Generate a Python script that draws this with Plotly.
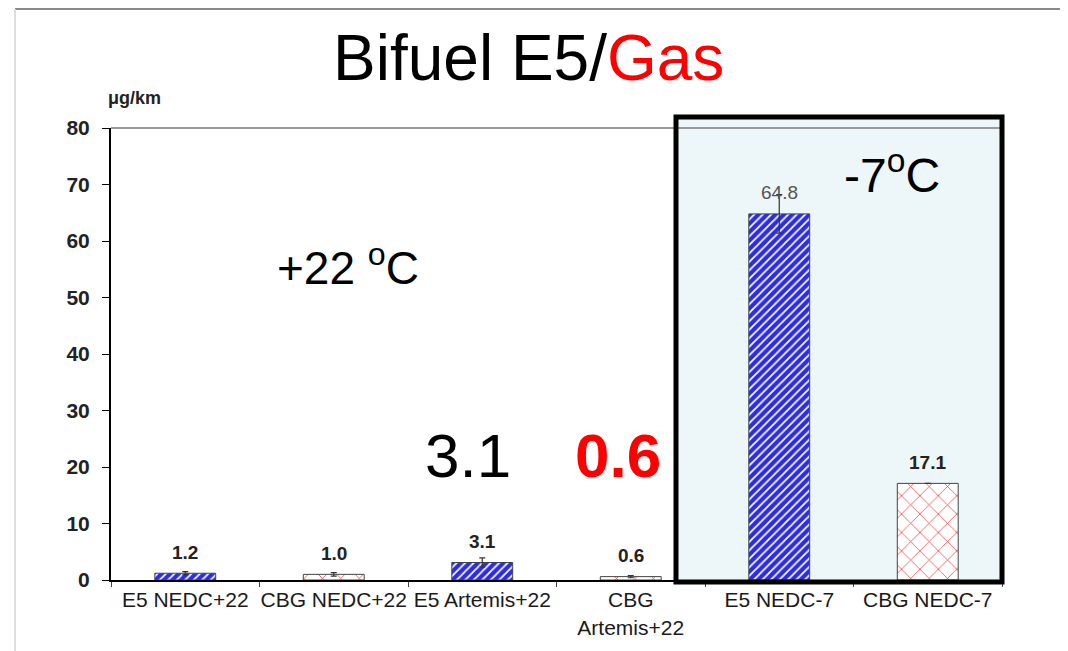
import plotly.graph_objects as go

categories = ["E5 NEDC+22", "CBG NEDC+22", "E5 Artemis+22", "CBG<br>Artemis+22", "E5 NEDC-7", "CBG NEDC-7"]
values = [1.2, 1.0, 3.1, 0.6, 64.8, 17.1]
errors = [0.3, 0.3, 0.8, 0.2, 3.4, 0.0]
fuel = ["E5", "CBG", "E5", "CBG", "E5", "CBG"]
y_ticks = [0, 10, 20, 30, 40, 50, 60, 70, 80]

FONT = "Liberation Sans, Arial, sans-serif"

# page body adds an 8px margin; compensate so plot area lands at x 111..1002, y 128..580
OFF = 8
W, H = 1068 - OFF, 651 - OFF
L, R, T, B = 111 - OFF, 66, 128 - OFF, 71
PW, PH = 891, 452


def px(x):
    return (x - 111) / PW


def py(y):
    return (580 - y) / PH


fig = go.Figure()

# cold-start box background (below bars)
fig.add_shape(type="rect", xref="paper", yref="paper", x0=px(674), x1=px(1004), y0=py(583), y1=py(115),
              fillcolor="#edf6f8", line=dict(width=0), layer="below")

is_e5 = [f == "E5" for f in fuel]
for flag, bg, fg, shape in [(True, "#2b2bf0", "white", "/"), (False, "white", "#f04a4a", "x")]:
    xs = [c for c, e in zip(categories, is_e5) if e == flag]
    ys = [v for v, e in zip(values, is_e5) if e == flag]
    es = [v for v, e in zip(errors, is_e5) if e == flag]
    fig.add_trace(go.Bar(
        x=xs, y=ys,
        width=0.41,
        marker=dict(color=bg,
                    line=dict(color="#444444", width=1),
                    pattern=dict(shape=shape, fgcolor=fg, bgcolor=bg, size=6 if shape == "/" else 13,
                                 solidity=0.3 if shape == "/" else 0.12, fillmode="replace")),
        error_y=dict(type="data", array=es, visible=True, color="#333333", thickness=1.2, width=3),
        showlegend=False,
    ))

# value labels above bars
for c, v in zip(categories, values):
    big = v > 50
    fig.add_annotation(x=c, y=v, xref="x", yref="y", text=f"{v:.1f}", showarrow=False,
                       yanchor="middle", yshift=21,
                       font=dict(family=FONT, size=19, color="#555555" if big else "#222222",
                                 weight="normal" if big else "bold"))

fig.update_layout(
    width=W, height=H,
    margin=dict(l=L, r=R, t=T, b=B, autoexpand=False),
    paper_bgcolor="white", plot_bgcolor="rgba(0,0,0,0)",
    xaxis=dict(type="category", categoryorder="array", categoryarray=categories,
               range=[-0.5, 5.5], showline=True, linecolor="black", linewidth=2,
               ticks="outside", tickson="boundaries", ticklen=5, tickcolor="#444444",
               tickangle=0, automargin=False,
               tickfont=dict(family=FONT, size=21, color="#1a1a1a"), showgrid=False),
    yaxis=dict(range=[0, 80], tickvals=y_ticks, showline=True, linecolor="black", linewidth=2,
               ticks="outside", ticklen=7, tickcolor="black", ticklabelstandoff=8, automargin=False,
               tickfont=dict(family=FONT, size=21, color="#222222", weight="bold"), showgrid=False,
               zeroline=False),
    font=dict(family=FONT),
)

# slide frame lines
fig.add_shape(type="line", xref="paper", yref="paper", x0=px(15), x1=px(1068), y0=py(9), y1=py(9),
              line=dict(color="#8a8a8a", width=2))
fig.add_shape(type="line", xref="paper", yref="paper", x0=px(15), x1=px(15), y0=py(651), y1=py(9),
              line=dict(color="#dddddd", width=2))
# plot top border
fig.add_shape(type="line", xref="paper", yref="paper", x0=0, x1=px(1000), y0=1, y1=1,
              line=dict(color="#999999", width=2))
# black frame around -7 °C results
fig.add_shape(type="rect", xref="paper", yref="paper", x0=px(676), x1=px(1002), y0=py(582), y1=py(117),
              fillcolor="rgba(0,0,0,0)", line=dict(color="black", width=5), layer="above")

annotations = [
    dict(text="Bifuel E5/<span style='color:red'>Gas</span>", x=528, y=58, size=64),
    dict(text="+22 <sup>o</sup>C", x=348, y=265, size=46),
    dict(text="-7<sup>o</sup>C", x=892, y=172, size=48),
]
for a in annotations:
    fig.add_annotation(text=a["text"], xref="paper", yref="paper",
                       x=px(a["x"]), y=py(a["y"]),
                       showarrow=False, xanchor="center", yanchor="middle",
                       font=dict(family=FONT, size=a["size"], color="black"))

fig.add_annotation(text="3.1", xref="paper", yref="paper", x=px(468), y=py(455),
                   showarrow=False, xanchor="center", yanchor="middle", bgcolor="white",
                   borderpad=14, font=dict(family=FONT, size=62, color="black"))
fig.add_annotation(text="<b>0.6</b>", xref="paper", yref="paper", x=px(618), y=py(455),
                   showarrow=False, xanchor="center", yanchor="middle",
                   font=dict(family=FONT, size=62, color="red"))
fig.add_annotation(text="μg/km", xref="paper", yref="paper", x=px(134), y=py(98),
                   showarrow=False, xanchor="center", yanchor="middle",
                   font=dict(family=FONT, size=18, color="#222222", weight="bold"))

fig.write_html("out.html")
